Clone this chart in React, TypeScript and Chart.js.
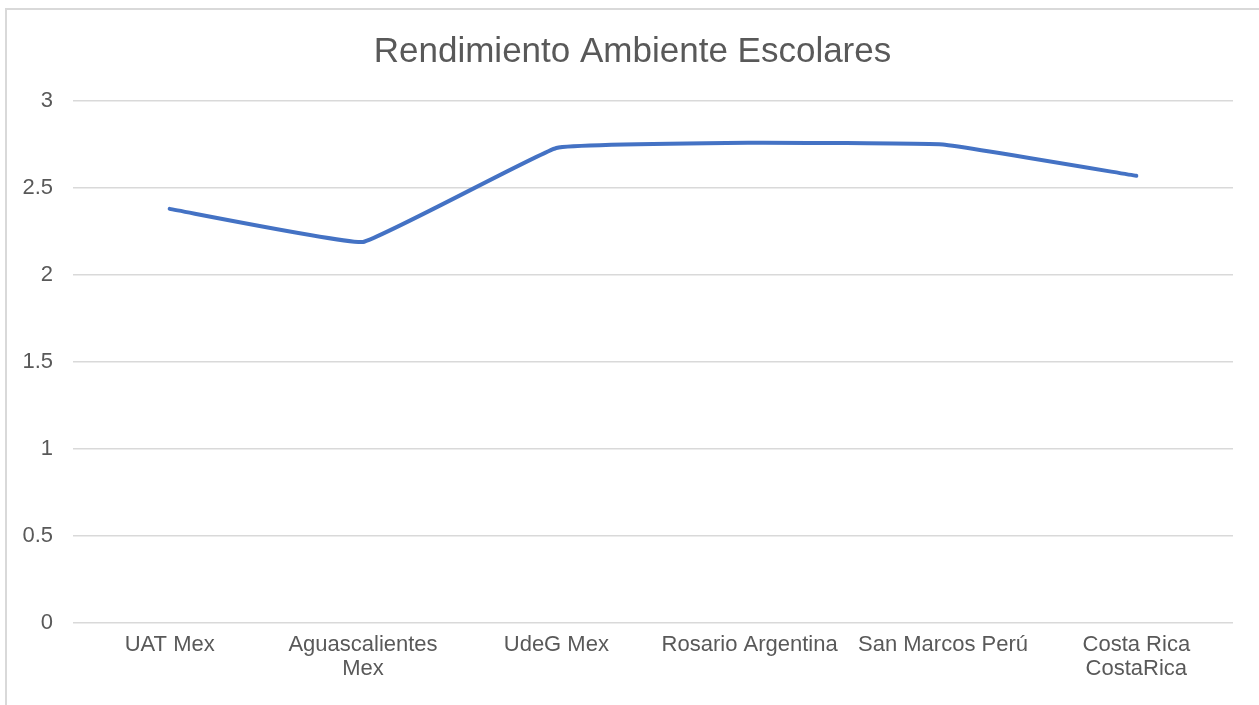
import React, { useEffect, useRef } from "react";
import { Chart, registerables } from "chart.js";

Chart.register(...registerables);

const chartTitle = "Rendimiento Ambiente Escolares";
const categories: (string | string[])[] = [
  "UAT Mex",
  ["Aguascalientes", "Mex"],
  "UdeG Mex",
  "Rosario Argentina",
  "San Marcos Perú",
  ["Costa Rica", "CostaRica"],
];
const seriesValues = [2.38, 2.19, 2.73, 2.76, 2.75, 2.57];
const yTicks = [0, 0.5, 1, 1.5, 2, 2.5, 3];

const FONT = "'Liberation Sans', Arial, sans-serif";
const TEXT = "#595959";
const GRID = "#d9d9d9";

export default function App() {
  const ref = useRef<HTMLCanvasElement | null>(null);

  useEffect(() => {
    if (!ref.current) return;
    const chart = new Chart(ref.current, {
      type: "line",
      data: {
        labels: categories,
        datasets: [
          {
            label: "Serie",
            data: seriesValues,
            yAxisID: "y",
            borderColor: "#4472C4",
            backgroundColor: "#4472C4",
            borderWidth: 4,
            pointRadius: 0,
            tension: 0.08,
            borderCapStyle: "round",
            borderJoinStyle: "round",
          },
        ],
      },
      options: {
        responsive: false,
        animation: false,
        layout: { padding: { left: 6, right: 0, top: 0, bottom: 0 } },
        plugins: {
          legend: { display: false },
          tooltip: { enabled: false },
          title: {
            display: true,
            text: chartTitle,
            color: TEXT,
            font: { family: FONT, size: 35, weight: "normal", lineHeight: 1.2 },
            padding: { top: 31, bottom: 28 },
          },
        },
        scales: {
          x: {
            type: "category",
            offset: true,
            grid: { display: false, drawTicks: false },
            border: { display: false },
            ticks: {
              color: TEXT,
              font: { family: FONT, size: 22, lineHeight: 1.1 },
              padding: 10,
              maxRotation: 0,
              autoSkip: false,
            },
            afterFit: (scale: any) => {
              scale.height = 82;
            },
          },
          y: {
            position: "left",
            min: 0,
            max: 3,
            afterBuildTicks: (scale: any) => {
              scale.ticks = yTicks.map((v) => ({ value: v }));
            },
            grid: { color: GRID, lineWidth: 1.5, drawTicks: false },
            border: { display: false },
            ticks: {
              color: TEXT,
              font: { family: FONT, size: 22 },
              padding: 20,
              callback: (v: any) => String(Number(v)),
            },
            afterFit: (scale: any) => {
              scale.width = 67;
            },
          },
          yRight: {
            position: "right",
            display: true,
            grid: { display: false, drawTicks: false },
            border: { display: false },
            ticks: { display: false },
            afterFit: (scale: any) => {
              scale.width = 26;
            },
          },
        },
      },
    });
    return () => chart.destroy();
  }, []);

  return (
    <div
      style={{
        position: "absolute",
        left: 0,
        top: 0,
        width: 1259,
        height: 705,
        overflow: "hidden",
        background: "#ffffff",
      }}
    >
      <div
        style={{
          position: "absolute",
          left: 5,
          top: 8,
          width: 1400,
          height: 800,
          border: "2px solid #d9d9d9",
          boxSizing: "border-box",
        }}
      />
      <canvas
        ref={ref}
        width={1259}
        height={705}
        style={{ position: "absolute", left: 0, top: 0, width: 1259, height: 705 }}
      />
    </div>
  );
}
